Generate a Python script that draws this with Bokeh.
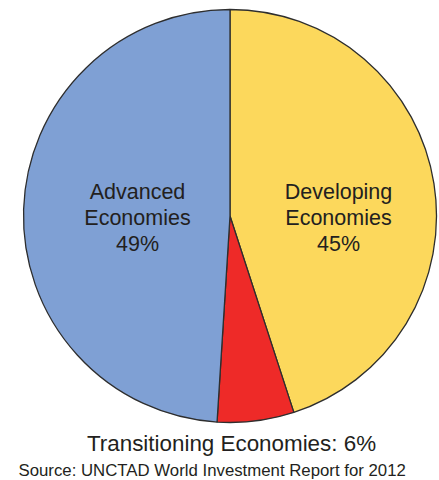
import math
from bokeh.plotting import figure
from bokeh.models import Range1d, ColumnDataSource
from bokeh.core.properties import value
from bokeh.embed import file_html
from bokeh.resources import INLINE

# ---- data ----
categories = ["Developing Economies", "Transitioning Economies", "Advanced Economies"]
shares = [45, 6, 49]
colors = ["#FCD85C", "#EE2A28", "#7FA0D4"]
source_note = "Source: UNCTAD World Investment Report for 2012"

W, H = 439, 480
p = figure(width=W, height=H, output_backend="svg", toolbar_location=None,
           x_range=Range1d(0, W), y_range=Range1d(0, H),
           min_border=0, margin=0)
p.axis.visible = False
p.grid.visible = False
p.outline_line_color = None
p.background_fill_color = None
p.border_fill_color = None

def Y(py):
    return H - py

cx, cy, r = 229.5, Y(215.5), 206.5

total = sum(shares)
starts, ends = [], []
a = math.pi / 2
for s in shares:
    starts.append(a)
    a -= 2 * math.pi * s / total
    ends.append(a)

src = ColumnDataSource(dict(cat=categories, share=shares, color=colors,
                            start=starts, end=ends))
p.wedge(x=cx, y=cy, radius=r, start_angle="start", end_angle="end",
        direction="clock", fill_color="color", line_color="#2e2e2e",
        line_width=1.3, source=src)

font = value("Liberation Sans")
tc = "#231F20"
# inside labels
p.text(x=[338, 338, 338], y=[Y(191), Y(217), Y(243)],
       text=["Developing", "Economies", f"{shares[0]}%"],
       text_font=font, text_font_size="21.5px", text_color=tc,
       text_align="center", text_baseline="alphabetic")
p.text(x=[137, 137, 137], y=[Y(191), Y(217), Y(243)],
       text=["Advanced", "Economies", f"{shares[2]}%"],
       text_font=font, text_font_size="21.5px", text_color=tc,
       text_align="center", text_baseline="alphabetic")
# outside label
p.text(x=[231], y=[Y(443)], text=[f"Transitioning Economies: {shares[1]}%"],
       text_font=font, text_font_size="22.4px", text_color=tc,
       text_align="center", text_baseline="alphabetic")
p.text(x=[18], y=[Y(470)], text=[source_note],
       text_font=font, text_font_size="16.8px", text_color=tc,
       text_align="left", text_baseline="alphabetic")

open("out.html", "w").write(file_html(p, INLINE))
